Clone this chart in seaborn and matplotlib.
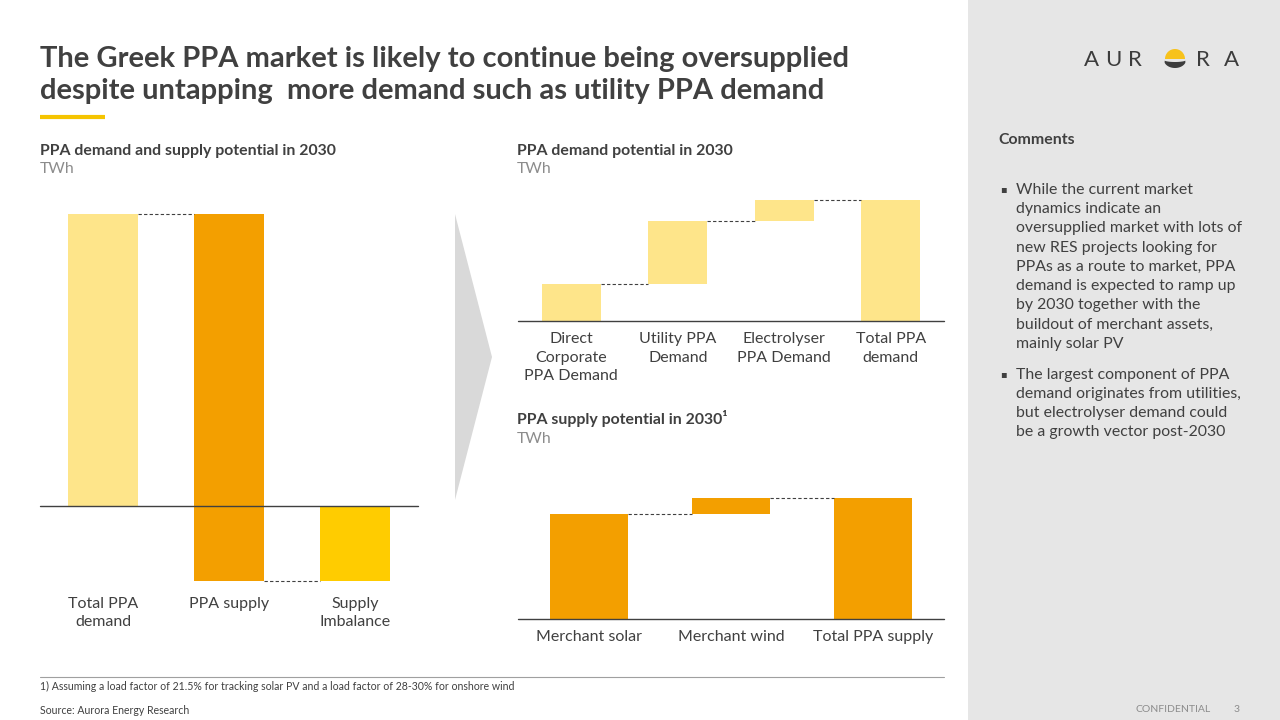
import numpy as np
import matplotlib
matplotlib.use("Agg")
import matplotlib.pyplot as plt
from matplotlib.patches import Rectangle, Polygon, Wedge
import seaborn as sns

# chart data (TWh)
balance_cats = ["Total PPA\ndemand", "PPA supply", "Supply\nImbalance"]
balance_vals = [6.0, -7.54, -1.54]
balance_bottoms = [0.0, 6.0, 0.0]
balance_colors = ["#FEE58A", "#F39F00", "#FFCC00"]

demand_cats = ["Direct\nCorporate\nPPA Demand", "Utility PPA\nDemand", "Electrolyser\nPPA Demand", "Total PPA\ndemand"]
demand_vals = [1.83, 3.12, 1.05, 6.0]
demand_bottoms = [0.0, 1.83, 4.95, 0.0]

supply_cats = ["Merchant solar", "Merchant wind", "Total PPA supply"]
supply_vals = [6.54, 1.0, 7.54]
supply_bottoms = [0.0, 6.54, 0.0]

comment_1 = ["While the current market", "dynamics indicate an", "oversupplied market with lots of",
             "new RES projects looking for", "PPAs as a route to market, PPA",
             "demand is expected to ramp up", "by 2030 together with the",
             "buildout of merchant assets,", "mainly solar PV"]
comment_2 = ["The largest component of PPA", "demand originates from utilities,",
             "but electrolyser demand could", "be a growth vector post-2030"]

DARK = "#404040"
GREY = "#8C8C8C"
BAR_W = 0.55

sns.set_style("white")
plt.rcParams["font.family"] = ["Lato", "DejaVu Sans"]

fig = plt.figure(figsize=(12.8, 7.2), dpi=100)
fig.patch.set_facecolor("white")

# background layer in pixel coords
bg = fig.add_axes([0, 0, 1, 1], zorder=-1)
bg.set_xlim(0, 1280)
bg.set_ylim(720, 0)
bg.axis("off")


def px_axes(x0, y0, x1, y1):
    return fig.add_axes([x0 / 1280, 1 - y1 / 720, (x1 - x0) / 1280, (y1 - y0) / 720])


def waterfall(ax, cats, vals, bottoms, colors, connectors, ylim, pad):
    sns.barplot(x=cats, y=vals, bottom=bottoms, color=colors[0], width=BAR_W,
                linewidth=0, ax=ax)
    for p, c in zip(ax.patches, colors):
        p.set_facecolor(c)
        p.set_edgecolor(c)
    for i, level in connectors:
        ax.plot([i + BAR_W / 2, i + 1 - BAR_W / 2], [level, level], ls=(0, (3, 2)),
                color=DARK, lw=0.8, zorder=1)
    ax.axhline(0, color=DARK, lw=1, clip_on=False, zorder=3)
    ax.set_xlim(-0.5, len(cats) - 0.5)
    ax.set_ylim(*ylim)
    ax.set_yticks([])
    ax.set_xlabel("")
    ax.set_ylabel("")
    sns.despine(ax=ax, left=True, bottom=True)
    ax.tick_params(axis="x", length=0, pad=pad, labelsize=11.5, labelcolor=DARK)
    for lab in ax.get_xticklabels():
        lab.set_linespacing(1.4)
    ax.set_facecolor("none")


# left chart
ax1 = px_axes(40, 200, 418, 590)
waterfall(ax1, balance_cats, balance_vals, balance_bottoms, balance_colors,
          [(0, balance_vals[0]), (1, balance_vals[2])], (-1.725, 6.29), 5)

# top right chart
ax2 = px_axes(518, 190, 944, 321)
waterfall(ax2, demand_cats, demand_vals, demand_bottoms, ["#FEE58A"] * 4,
          [(0, 1.83), (1, 4.95), (2, 6.0)], (0, 6.5), 8)

# bottom right chart
ax3 = px_axes(518, 480, 944, 619)
waterfall(ax3, supply_cats, supply_vals, supply_bottoms, ["#F39F00"] * 3,
          [(0, 6.54), (1, 7.54)], (0, 8.66), 8)

# right grey panel
bg.add_patch(Rectangle((968, 0), 312, 720, color="#E6E6E6", lw=0))

# chevron between panels
bg.add_patch(Polygon([(455, 214), (492, 357), (455, 500)], closed=True, color="#D9D9D9", lw=0))

# title
bg.text(40, 67, "The Greek PPA market is likely to continue being oversupplied",
        fontsize=21, fontweight="bold", color=DARK, va="baseline")
bg.text(40, 99, "despite untapping  more demand such as utility PPA demand",
        fontsize=21, fontweight="bold", color=DARK, va="baseline")
bg.plot([40, 105], [117, 117], color="#F5C400", lw=3, solid_capstyle="butt")

# subtitles
bg.text(40, 155, "PPA demand and supply potential in 2030", fontsize=11.4, fontweight="bold",
        color=DARK, va="baseline")
bg.text(40, 173, "TWh", fontsize=11.4, color=GREY, va="baseline")
bg.text(517, 155, "PPA demand potential in 2030", fontsize=11.4, fontweight="bold",
        color=DARK, va="baseline")
bg.text(517, 173, "TWh", fontsize=11.4, color=GREY, va="baseline")
bg.text(517, 424, "PPA supply potential in 2030\u00b9", fontsize=11.4, fontweight="bold",
        color=DARK, va="baseline")
bg.text(517, 443, "TWh", fontsize=11.4, color=GREY, va="baseline")

# comments
bg.text(998, 140, "Comments", fontsize=11.4, fontweight="bold", color=DARK, va="center")
y = 190
for block in (comment_1, comment_2):
    bg.text(1003, y - 1, "\u25aa", fontsize=7, color=DARK, va="center", ha="center",
            family=["DejaVu Sans"])
    for line in block:
        bg.text(1016, y, line, fontsize=11.4, color=DARK, va="center")
        y += 19.2
    y += 12

# logo
for ch, x in zip("AURRA", [1092, 1113, 1135, 1203, 1232]):
    bg.text(x, 60, ch, fontsize=16, color="#3C3C3C", ha="center", va="center")
bg.add_patch(Wedge((1175, 59), 10, 180, 360, color="#F7C21B", lw=0))
t = np.linspace(np.radians(20), np.radians(160), 30)
hill = [(1175 + 11 * np.cos(a), 60 + 8 * np.sin(a)) for a in t]
hill += [(1175 + 11 * np.cos(a), 60 + 2 * np.sin(a)) for a in t[::-1]]
bg.add_patch(Polygon(hill, closed=True, color="#3C3C3C", lw=0))

# footer
bg.plot([40, 944], [677, 677], color="#A0A0A0", lw=0.8)
bg.text(40, 686, "1) Assuming a load factor of 21.5% for tracking solar PV and a load factor of 28-30% for onshore wind",
        fontsize=7.6, color=DARK, va="center")
bg.text(40, 710, "Source: Aurora Energy Research", fontsize=7.6, color=DARK, va="center")
bg.text(1136, 710, "CONFIDENTIAL", fontsize=7.5, color=GREY, va="center")
bg.text(1240, 710, "3", fontsize=7.5, color=GREY, va="center", ha="right")

fig.savefig("out.png", dpi=100)
